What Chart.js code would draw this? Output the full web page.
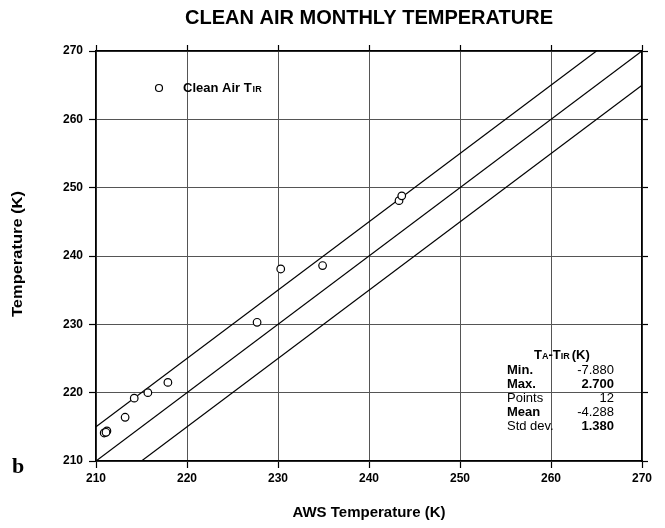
<!DOCTYPE html>
<html><head><meta charset="utf-8">
<script src="https://cdn.jsdelivr.net/npm/chart.js@4/dist/chart.umd.min.js"></script>
<style>html,body{margin:0;padding:0;background:#fff}#wrap{width:665px;height:528px}</style>
</head><body><div id="wrap"><canvas id="c" width="665" height="528"></canvas></div>
<script>
const awsTemp = [210.9, 211.2, 211.1, 213.2, 214.2, 215.7, 217.9, 227.7, 230.3, 234.9, 243.3, 243.6];
const cleanAirTir = [214.1, 214.4, 214.2, 216.4, 219.2, 220.0, 221.5, 230.3, 238.1, 238.6, 248.1, 248.8];
const refOffsets = [5, 0, -5];
const axisMin = 210, axisMax = 270, axisStep = 10;
const statLabels = ['Min.', 'Max.', 'Points', 'Mean', 'Std dev.'];
const statValues = ['-7.880', '2.700', '12', '-4.288', '1.380'];
const statBold = [true, true, false, true, false];

const FONT = '"Liberation Sans", Arial, Helvetica, sans-serif';

const points = awsTemp.map((x, i) => ({x, y: cleanAirTir[i]}));
const lineSets = refOffsets.map(d => ({
  type: 'line',
  data: [{x: Math.max(axisMin, axisMin - d), y: Math.max(axisMin, axisMin - d) + d},
         {x: Math.min(axisMax, axisMax - d), y: Math.min(axisMax, axisMax - d) + d}],
  borderColor: '#000', borderWidth: 1.2, pointRadius: 0, fill: false, tension: 0
}));

const decor = {
  id: 'decor',
  afterDraw(chart) {
    const ctx = chart.ctx, a = chart.chartArea;
    const cx = (a.left + a.right) / 2;
    ctx.save();
    ctx.fillStyle = '#000';
    ctx.textBaseline = 'middle';
    ctx.textAlign = 'center';
    // title
    ctx.font = 'bold 20px ' + FONT;
    const t = 'CLEAN AIR MONTHLY TEMPERATURE';
    const w = ctx.measureText(t).width;
    ctx.save(); ctx.translate(cx, 18); ctx.scale(368 / w, 1); ctx.fillText(t, 0, 0); ctx.restore();
    // x title
    ctx.font = 'bold 15px ' + FONT;
    ctx.fillText('AWS Temperature (K)', cx, 513);
    // y title
    ctx.save(); ctx.translate(18, 254); ctx.rotate(-Math.PI / 2);
    ctx.font = 'bold 15px ' + FONT;
    const yt = 'Temperature (K)';
    const yw = ctx.measureText(yt).width;
    ctx.scale(126 / yw, 1);
    ctx.fillText(yt, 0, 0); ctx.restore();
    // b label
    ctx.font = 'bold 22px "Liberation Serif", "DejaVu Serif", serif';
    ctx.textAlign = 'left';
    ctx.fillText('b', 12, 467);
    // legend
    ctx.beginPath(); ctx.arc(159, 88, 3.5, 0, Math.PI * 2);
    ctx.lineWidth = 1.2; ctx.strokeStyle = '#000'; ctx.stroke();
    ctx.font = 'bold 13px ' + FONT;
    ctx.textAlign = 'left';
    ctx.fillText('Clean Air T', 183, 88);
    let lw = ctx.measureText('Clean Air T').width;
    ctx.font = 'bold 9px ' + FONT;
    ctx.fillText('IR', 183 + lw + 1, 90);
    // stats box
    ctx.font = 'bold 13px ' + FONT;
    let hx = 534;
    ctx.fillText('T', hx, 355); hx += ctx.measureText('T').width;
    ctx.font = 'bold 9px ' + FONT; ctx.fillText('A', hx, 357); hx += ctx.measureText('A').width;
    ctx.font = 'bold 13px ' + FONT; ctx.fillText('-T', hx, 355); hx += ctx.measureText('-T').width;
    ctx.font = 'bold 9px ' + FONT; ctx.fillText('IR', hx, 357); hx += ctx.measureText('IR').width + 2;
    ctx.font = 'bold 13px ' + FONT; ctx.fillText('(K)', hx, 355);
    const rowY = [370, 384, 398, 412, 426];
    statLabels.forEach((l, i) => {
      ctx.font = (statBold[i] ? 'bold ' : '') + '13px ' + FONT;
      ctx.textAlign = 'left';
      ctx.fillText(l, 507, rowY[i]);
      ctx.font = (i === 1 || i === 4 ? 'bold ' : '') + '13px ' + FONT;
      ctx.textAlign = 'right';
      ctx.fillText(statValues[i], 614, rowY[i]);
    });
    ctx.restore();
  }
};

const tickFont = {family: FONT, size: 12, weight: 'bold'};
const gridMain = {color: '#555', lineWidth: 1, tickLength: 7, tickColor: '#000', tickWidth: 1.2};
const border = {color: '#000', width: 1.5};

new Chart(document.getElementById('c'), {
  type: 'scatter',
  data: {
    datasets: [{
      data: points,
      pointStyle: 'circle', pointRadius: 3.8, pointBorderWidth: 1.2,
      pointBorderColor: '#000', pointBackgroundColor: '#fff'
    }, ...lineSets]
  },
  options: {
    responsive: false, animation: false,
    layout: {padding: 0},
    plugins: {legend: {display: false}, title: {display: false}, tooltip: {enabled: false}},
    scales: {
      x: {type: 'linear', position: 'bottom', min: axisMin, max: axisMax,
          ticks: {stepSize: axisStep, font: tickFont, color: '#000', padding: 3},
          grid: gridMain, border,
          afterFit(s) { s.height = 67; }},
      x2: {type: 'linear', position: 'top', min: axisMin, max: axisMax,
          ticks: {stepSize: axisStep, display: false},
          grid: {drawOnChartArea: false, tickLength: 6, tickColor: '#000', tickWidth: 1.2}, border,
          afterFit(s) { s.height = 51; }},
      y: {type: 'linear', position: 'left', min: axisMin, max: axisMax,
          ticks: {stepSize: axisStep, font: tickFont, color: '#000', padding: 6},
          grid: gridMain, border,
          afterFit(s) { s.width = 96; }},
      y2: {type: 'linear', position: 'right', min: axisMin, max: axisMax,
          ticks: {stepSize: axisStep, display: false},
          grid: {drawOnChartArea: false, tickLength: 6, tickColor: '#000', tickWidth: 1.2}, border,
          afterFit(s) { s.width = 23; }}
    }
  },
  plugins: [decor]
});
</script></body></html>
